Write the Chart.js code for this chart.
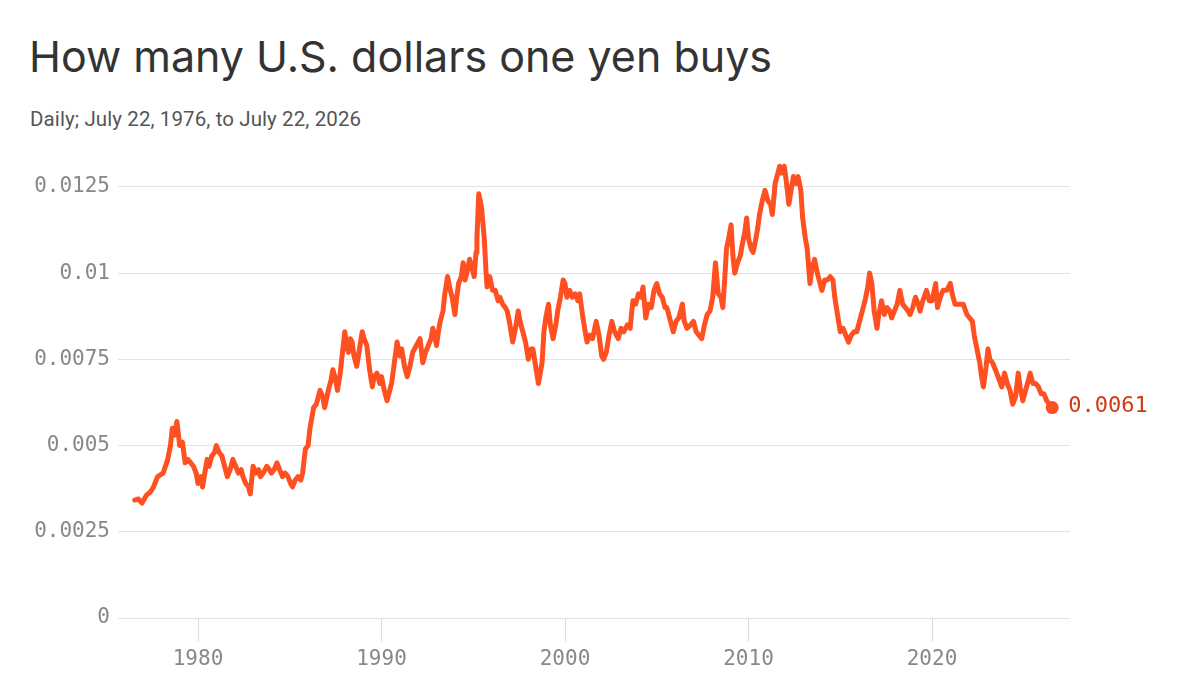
<!DOCTYPE html>
<html>
<head>
<meta charset="utf-8">
<script src="https://cdn.jsdelivr.net/npm/chart.js@4/dist/chart.umd.min.js"></script>
<style>
  html, body { margin: 0; padding: 0; background: #fff; }
  #wrap { position: relative; width: 1200px; height: 674px; overflow: hidden; }
  #title { position: absolute; left: 29px; top: 30px; font-family: Inter, sans-serif; font-size: 43px; color: #333; letter-spacing: 0; }
  #subtitle { position: absolute; left: 30px; top: 107px; font-family: Roboto, sans-serif; font-size: 20.5px; color: #555; letter-spacing: 0.1px; }
  #chart { position: absolute; left: 0; top: 0; }
</style>
</head>
<body>
<div id="wrap">
  <div id="title">How many U.S. dollars one yen buys</div>
  <div id="subtitle">Daily; July 22, 1976, to July 22, 2026</div>
  <canvas id="chart" width="1200" height="674"></canvas>
</div>
<script>
// decimal years and the dollar value of one yen
const years = [
  1976.55, 1976.75, 1976.95, 1977.2, 1977.4, 1977.55, 1977.8, 1978.1, 1978.35, 1978.5,
  1978.6, 1978.72, 1978.85, 1979.0, 1979.15, 1979.3, 1979.45, 1979.6, 1979.75, 1979.9,
  1980.0, 1980.15, 1980.25, 1980.4, 1980.5, 1980.6, 1980.75, 1980.9, 1981.0, 1981.15,
  1981.3, 1981.45, 1981.6, 1981.75, 1981.9, 1982.05, 1982.2, 1982.35, 1982.45, 1982.6,
  1982.75, 1982.85, 1983.0, 1983.15, 1983.3, 1983.4, 1983.55, 1983.75, 1983.9, 1984.0,
  1984.15, 1984.3, 1984.45, 1984.6, 1984.75, 1984.9, 1985.05, 1985.15, 1985.3, 1985.45,
  1985.6, 1985.7, 1985.85, 1986.0, 1986.1, 1986.3, 1986.45, 1986.65, 1986.8, 1986.9,
  1987.1, 1987.25, 1987.35, 1987.5, 1987.6, 1987.75, 1987.85, 1988.0, 1988.1, 1988.2,
  1988.3, 1988.4, 1988.5, 1988.65, 1988.8, 1988.95, 1989.05, 1989.2, 1989.35, 1989.5,
  1989.6, 1989.75, 1989.9, 1990.0, 1990.15, 1990.3, 1990.45, 1990.55, 1990.7, 1990.85,
  1991.0, 1991.1, 1991.25, 1991.4, 1991.55, 1991.7, 1991.9, 1992.1, 1992.25, 1992.4,
  1992.55, 1992.7, 1992.8, 1993.0, 1993.1, 1993.2, 1993.35, 1993.45, 1993.6, 1993.75,
  1993.85, 1994.0, 1994.1, 1994.2, 1994.35, 1994.45, 1994.55, 1994.65, 1994.8, 1994.95,
  1995.05, 1995.15, 1995.2, 1995.3, 1995.38, 1995.45, 1995.6, 1995.7, 1995.75, 1995.9,
  1996.05, 1996.2, 1996.35, 1996.45, 1996.6, 1996.75, 1996.85, 1997.0, 1997.15, 1997.3,
  1997.45, 1997.55, 1997.7, 1997.85, 1998.0, 1998.15, 1998.25, 1998.4, 1998.55, 1998.65,
  1998.75, 1998.85, 1998.95, 1999.1, 1999.2, 1999.35, 1999.5, 1999.6, 1999.75, 1999.9,
  2000.0, 2000.1, 2000.25, 2000.4, 2000.55, 2000.7, 2000.8, 2000.95, 2001.1, 2001.2,
  2001.35, 2001.5, 2001.7, 2001.85, 2002.0, 2002.1, 2002.25, 2002.4, 2002.55, 2002.7,
  2002.9, 2003.05, 2003.2, 2003.4, 2003.55, 2003.7, 2003.85, 2004.0, 2004.15, 2004.25,
  2004.4, 2004.55, 2004.7, 2004.85, 2005.0, 2005.15, 2005.3, 2005.45, 2005.55, 2005.7,
  2005.9, 2006.05, 2006.2, 2006.4, 2006.5, 2006.65, 2006.85, 2007.0, 2007.15, 2007.3,
  2007.45, 2007.6, 2007.75, 2007.9, 2008.05, 2008.2, 2008.35, 2008.5, 2008.6, 2008.7,
  2008.8, 2008.95, 2009.05, 2009.15, 2009.25, 2009.4, 2009.55, 2009.65, 2009.8, 2009.9,
  2010.0, 2010.15, 2010.25, 2010.4, 2010.5, 2010.6, 2010.75, 2010.9, 2011.05, 2011.2,
  2011.3, 2011.45, 2011.55, 2011.7, 2011.8, 2011.95, 2012.05, 2012.2, 2012.35, 2012.45,
  2012.6, 2012.7, 2012.85, 2012.95, 2013.1, 2013.2, 2013.35, 2013.45, 2013.6, 2013.75,
  2013.9, 2014.0, 2014.15, 2014.3, 2014.45, 2014.6, 2014.7, 2014.85, 2015.0, 2015.15,
  2015.3, 2015.45, 2015.6, 2015.75, 2015.9, 2016.05, 2016.2, 2016.35, 2016.5, 2016.6,
  2016.72, 2016.85, 2017.0, 2017.1, 2017.25, 2017.4, 2017.55, 2017.7, 2017.8, 2017.95,
  2018.1, 2018.25, 2018.4, 2018.55, 2018.7, 2018.8, 2018.95, 2019.1, 2019.25, 2019.35,
  2019.5, 2019.7, 2019.85, 2020.0, 2020.2, 2020.3, 2020.45, 2020.6, 2020.8, 2021.0,
  2021.1, 2021.25, 2021.4, 2021.55, 2021.7, 2021.9, 2022.05, 2022.2, 2022.3, 2022.45,
  2022.6, 2022.7, 2022.8, 2022.95, 2023.05, 2023.15, 2023.3, 2023.45, 2023.6, 2023.8,
  2023.95, 2024.1, 2024.25, 2024.4, 2024.55, 2024.7, 2024.8, 2024.95, 2025.1, 2025.25,
  2025.35, 2025.5, 2025.65, 2025.8, 2025.95, 2026.1, 2026.25, 2026.4, 2026.55
];
const usdPerYen = [
  0.00342, 0.00345, 0.00333, 0.00357, 0.00365, 0.00377, 0.0041, 0.0042, 0.0046, 0.0050,
  0.0055, 0.0053, 0.0057, 0.0050, 0.0051, 0.0045, 0.0046, 0.0045, 0.0044, 0.0042,
  0.0039, 0.0041, 0.0038, 0.0043, 0.0046, 0.0044, 0.0047, 0.0048, 0.0050, 0.0048,
  0.0047, 0.0044, 0.0041, 0.0043, 0.0046, 0.0044, 0.0042, 0.0043, 0.0041, 0.0039,
  0.0038, 0.0036, 0.0044, 0.0042, 0.0043, 0.0041, 0.0042, 0.0044, 0.0043, 0.0042,
  0.0043, 0.0045, 0.0043, 0.0041, 0.0042, 0.0041, 0.0039, 0.0038, 0.0040, 0.0041,
  0.0040, 0.0042, 0.0049, 0.0050, 0.0055, 0.0061, 0.0062, 0.0066, 0.0064, 0.0061,
  0.0066, 0.0069, 0.0072, 0.0069, 0.0066, 0.0071, 0.0076, 0.0083, 0.0079, 0.0077,
  0.0081, 0.0080, 0.0076, 0.0073, 0.0078, 0.0083, 0.0081, 0.0079, 0.0072, 0.0067,
  0.0070, 0.0071, 0.0068, 0.0070, 0.0066, 0.0063, 0.0066, 0.0068, 0.0074, 0.0080,
  0.0076, 0.0078, 0.0073, 0.0070, 0.0073, 0.0077, 0.0079, 0.0081, 0.0074, 0.0077,
  0.0079, 0.0081, 0.0084, 0.0079, 0.0083, 0.0086, 0.0089, 0.0094, 0.0099, 0.0095,
  0.0093, 0.0088, 0.0093, 0.0097, 0.0099, 0.0103, 0.0098, 0.0100, 0.0104, 0.0101,
  0.0099, 0.0106, 0.0110, 0.0123, 0.0121, 0.0119, 0.0110, 0.0100, 0.0096, 0.0099,
  0.0095, 0.0095, 0.0092, 0.0093, 0.0091, 0.0090, 0.0089, 0.0085, 0.0080, 0.0084,
  0.0089, 0.0086, 0.0083, 0.0080, 0.0075, 0.0078, 0.0078, 0.0073, 0.0068, 0.0071,
  0.0074, 0.0083, 0.0087, 0.0091, 0.0085, 0.0081, 0.0085, 0.0089, 0.0093, 0.0098,
  0.0097, 0.0093, 0.0095, 0.0093, 0.0094, 0.0092, 0.0094, 0.0088, 0.0083, 0.0080,
  0.0082, 0.0081, 0.0086, 0.0082, 0.0076, 0.0075, 0.0077, 0.0082, 0.0086, 0.0083,
  0.0081, 0.0084, 0.0083, 0.0085, 0.0084, 0.0092, 0.0091, 0.0094, 0.0093, 0.0096,
  0.0087, 0.0091, 0.0090, 0.0095, 0.0097, 0.0094, 0.0093, 0.0090, 0.0090, 0.0087,
  0.0083, 0.0086, 0.0087, 0.0091, 0.0086, 0.0084, 0.0085, 0.0086, 0.0083, 0.0082,
  0.0081, 0.0085, 0.0088, 0.0089, 0.0093, 0.0103, 0.0094, 0.0093, 0.0090, 0.0098,
  0.0107, 0.0111, 0.0114, 0.0105, 0.0100, 0.0103, 0.0105, 0.0108, 0.0112, 0.0116,
  0.0110, 0.0107, 0.0106, 0.0110, 0.0113, 0.0117, 0.0121, 0.0124, 0.0121, 0.0120,
  0.0117, 0.0126, 0.0128, 0.0131, 0.0129, 0.0131, 0.0127, 0.0120, 0.0125, 0.0128,
  0.0126, 0.0128, 0.0124, 0.0116, 0.0110, 0.0107, 0.0097, 0.0101, 0.0104, 0.0100,
  0.0097, 0.0095, 0.0098, 0.0098, 0.0099, 0.0098, 0.0093, 0.0088, 0.0083, 0.0084,
  0.0082, 0.0080, 0.0082, 0.0083, 0.0083, 0.0086, 0.0089, 0.0092, 0.0096, 0.0100,
  0.0097, 0.0089, 0.0084, 0.0088, 0.0092, 0.0088, 0.0090, 0.0089, 0.0087, 0.0089,
  0.0091, 0.0095, 0.0091, 0.0090, 0.0089, 0.0088, 0.0090, 0.0093, 0.0091, 0.0089,
  0.0092, 0.0095, 0.0092, 0.0092, 0.0097, 0.0090, 0.0093, 0.0095, 0.0095, 0.0097,
  0.0094, 0.0091, 0.0091, 0.0091, 0.0091, 0.0088, 0.0087, 0.0086, 0.0082, 0.0078,
  0.0074, 0.0070, 0.0067, 0.0073, 0.0078, 0.0075, 0.0074, 0.0072, 0.0070, 0.0067,
  0.0071, 0.0068, 0.0066, 0.0062, 0.0064, 0.0071, 0.0067, 0.0063, 0.0066, 0.0069,
  0.0071, 0.0068, 0.0068, 0.0067, 0.0065, 0.0065, 0.0063, 0.0062, 0.0061
];
const yTicks = [0, 0.0025, 0.005, 0.0075, 0.01, 0.0125];
const yTickLabels = ['0', '0.0025', '0.005', '0.0075', '0.01', '0.0125'];
const xTicks = [1980, 1990, 2000, 2010, 2020];
const lastLabel = '0.0061';

const lineColor = '#ff5022';
const monoFont = '"DejaVu Sans Mono", monospace';

const points = years.map((yr, i) => ({ x: yr, y: usdPerYen[i] }));
const lastIndex = points.length - 1;

// label beside the final point
const endLabel = {
  id: 'endLabel',
  afterDatasetsDraw(chart) {
    const el = chart.getDatasetMeta(0).data[lastIndex];
    const ctx = chart.ctx;
    ctx.save();
    ctx.font = '22px ' + monoFont;
    ctx.fillStyle = '#d13a12';
    ctx.textAlign = 'left';
    ctx.textBaseline = 'middle';
    ctx.fillText(lastLabel, el.x + 16, el.y - 1);
    ctx.restore();
  }
};

const ctx = document.getElementById('chart').getContext('2d');
const chart = new Chart(ctx, {
  type: 'line',
  data: {
    datasets: [{
      data: points,
      borderColor: lineColor,
      backgroundColor: lineColor,
      borderWidth: 5,
      borderJoinStyle: 'round',
      borderCapStyle: 'round',
      tension: 0,
      pointRadius: c => c.dataIndex === lastIndex ? 6.5 : 0,
      pointHoverRadius: 0,
      pointBorderWidth: 0,
      clip: false
    }]
  },
  options: {
    responsive: false,
    animation: false,
    events: [],
    layout: { padding: { left: 0, right: 130, top: 160, bottom: 0 } },
    plugins: {
      legend: { display: false },
      tooltip: { enabled: false },
      title: { display: false }
    },
    scales: {
      x: {
        type: 'linear',
        min: 1975.64,
        max: 2027.52,
        afterBuildTicks: scale => { scale.ticks = xTicks.map(v => ({ value: v })); },
        afterFit: scale => { scale.height = 56; },
        border: { display: false },
        grid: { drawOnChartArea: false, drawTicks: true, tickLength: 24, color: '#dcdcdc', lineWidth: 1 },
        ticks: {
          color: '#888',
          font: { family: monoFont, size: 21 },
          padding: 5,
          maxRotation: 0,
          callback: v => String(v)
        }
      },
      y: {
        min: 0,
        max: 0.01328,
        afterBuildTicks: scale => { scale.ticks = yTicks.map(v => ({ value: v })); },
        afterFit: scale => { scale.width = 118; },
        border: { display: false },
        grid: { drawTicks: false, color: '#e2e2e2', lineWidth: 1 },
        ticks: {
          color: '#888',
          font: { family: monoFont, size: 21 },
          padding: 8,
          callback: v => yTickLabels[yTicks.indexOf(v)]
        }
      }
    }
  },
  plugins: [endLabel]
});
</script>
</body>
</html>
